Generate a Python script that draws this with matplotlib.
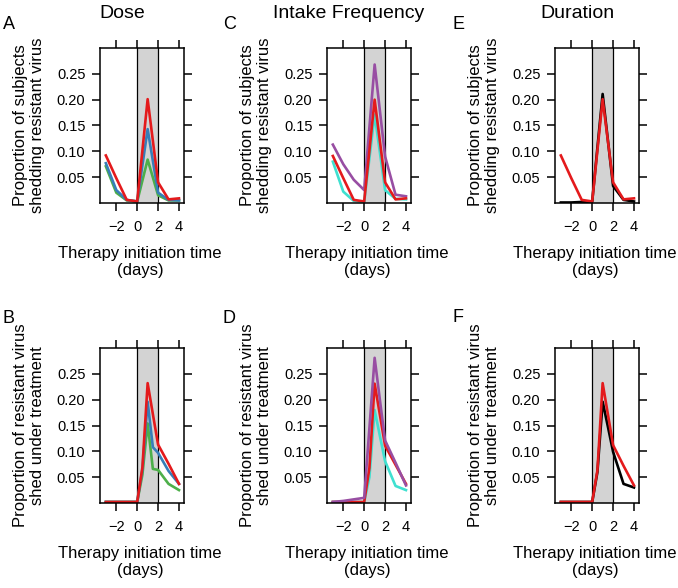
import numpy as np
import matplotlib
matplotlib.use('Agg')
import matplotlib.pyplot as plt
from matplotlib.ticker import FormatStrFormatter

plt.rcParams['font.family'] = ['Liberation Sans', 'DejaVu Sans']

# therapy initiation times (days)
x_top = [-3, -2, -1, 0, 1, 2, 3, 4]
x_bot = [-3, -2, -1, 0, 0.5, 1, 1.5, 2, 3, 4]

# A: dose, subjects shedding resistant virus
a_red = [0.092, 0.048, 0.006, 0.003, 0.201, 0.040, 0.007, 0.009]
a_blue = [0.077, 0.025, 0.006, 0.003, 0.143, 0.020, 0.006, 0.005]
a_green = [0.071, 0.020, 0.005, 0.003, 0.084, 0.015, 0.005, 0.005]

# B: dose, resistant virus shed under treatment
b_red = [0.002, 0.002, 0.002, 0.002, 0.069, 0.232, 0.172, 0.113, 0.076, 0.037]
b_blue = [0.002, 0.002, 0.002, 0.002, 0.065, 0.196, 0.108, 0.097, 0.062, 0.037]
b_green = [0.002, 0.002, 0.002, 0.002, 0.055, 0.154, 0.066, 0.064, 0.037, 0.025]

# C: intake frequency, subjects shedding
c_purple = [0.113, 0.075, 0.045, 0.025, 0.268, 0.090, 0.016, 0.013]
c_turq = [0.080, 0.022, 0.004, 0.002, 0.171, 0.025, 0.008, 0.007]
c_red = [0.091, 0.048, 0.006, 0.003, 0.200, 0.040, 0.007, 0.009]

# D: intake frequency, shed under treatment
d_purple = [0.002, 0.004, 0.007, 0.010, 0.145, 0.281, 0.200, 0.121, 0.078, 0.034]
d_turq = [0.002, 0.002, 0.002, 0.002, 0.050, 0.180, 0.130, 0.081, 0.033, 0.025]
d_red = [0.002, 0.002, 0.002, 0.002, 0.068, 0.231, 0.171, 0.111, 0.074, 0.037]

# E: duration, subjects shedding
e_black = [0.001, 0.001, 0.002, 0.003, 0.211, 0.033, 0.006, 0.003]
e_red = [0.092, 0.048, 0.006, 0.003, 0.201, 0.040, 0.007, 0.009]

# F: duration, shed under treatment
f_black = [0.002, 0.002, 0.002, 0.002, 0.060, 0.196, 0.148, 0.099, 0.037, 0.030]
f_red = [0.002, 0.002, 0.002, 0.002, 0.063, 0.232, 0.172, 0.112, 0.072, 0.034]

red = '#E41A1C'
blue = '#377EB8'
green = '#4DAF4A'
purple = '#984EA3'
turq = '#40E0D0'

W, H = 678, 588
fig = plt.figure(figsize=(W / 100, H / 100), dpi=100)

col_left = [100, 327, 555]
row_top = [48, 348]
aw, ah = 84, 155

ylab_top = 'Proportion of subjects\nshedding resistant virus'
ylab_bot = 'Proportion of resistant virus\nshed under treatment'

panels = [
    (0, 0, 'A', x_top, [(a_green, green), (a_blue, blue), (a_red, red)], ylab_top),
    (0, 1, 'B', x_bot, [(b_green, green), (b_blue, blue), (b_red, red)], ylab_bot),
    (1, 0, 'C', x_top, [(c_purple, purple), (c_turq, turq), (c_red, red)], ylab_top),
    (1, 1, 'D', x_bot, [(d_turq, turq), (d_red, red), (d_purple, purple)], ylab_bot),
    (2, 0, 'E', x_top, [(e_black, 'black'), (e_red, red)], ylab_top),
    (2, 1, 'F', x_bot, [(f_black, 'black'), (f_red, red)], ylab_bot),
]

for col, row, letter, x, series, ylab in panels:
    l = col_left[col]
    t = row_top[row]
    ax = fig.add_axes([l / W, 1 - (t + ah) / H, aw / W, ah / H])
    ax.axvspan(0, 2, color='#d3d3d3', lw=0, zorder=0)
    ax.axvline(0, color='black', lw=0.9, zorder=1)
    ax.axvline(2, color='black', lw=0.9, zorder=1)
    for y, c in series:
        ax.plot(x, y, color=c, lw=1.9, zorder=2)
    ax.set_xlim(-3.56, 4.48)
    ax.set_ylim(0, 0.30)
    ax.set_xticks([-2, 0, 2, 4])
    ax.set_yticks([0.05, 0.10, 0.15, 0.20, 0.25])
    ax.yaxis.set_major_formatter(FormatStrFormatter('%.2f'))
    ax.tick_params(direction='out', length=5.5, width=1.1, top=True, right=True,
                   labeltop=False, labelright=False, labelsize=10.5)
    ax.tick_params(axis='x', pad=7)
    ax.tick_params(axis='y', pad=5)
    for s in ax.spines.values():
        s.set_linewidth(1.1)
    ax.set_ylabel(ylab, fontsize=12, linespacing=1.15)
    ax.yaxis.set_label_coords(-0.66, 0.5)
    ax.set_xlabel('Therapy initiation time\n(days)', fontsize=12, linespacing=1.15, va='top')
    ax.xaxis.set_label_coords(0.476, -0.28)

letters_pos = {'A': (3, 29), 'C': (223, 29), 'E': (452, 29),
               'B': (2, 323), 'D': (223, 323), 'F': (452, 322)}
for k, (px, py) in letters_pos.items():
    fig.text(px / W, 1 - py / H, k, fontsize=13, ha='left', va='baseline')

titles = [('Dose', 122), ('Intake Frequency', 349), ('Duration', 577)]
for txt, cx in titles:
    fig.text(cx / W, 1 - 18 / H, txt, fontsize=14, ha='center', va='baseline')

fig.savefig('out.png', dpi=100)
